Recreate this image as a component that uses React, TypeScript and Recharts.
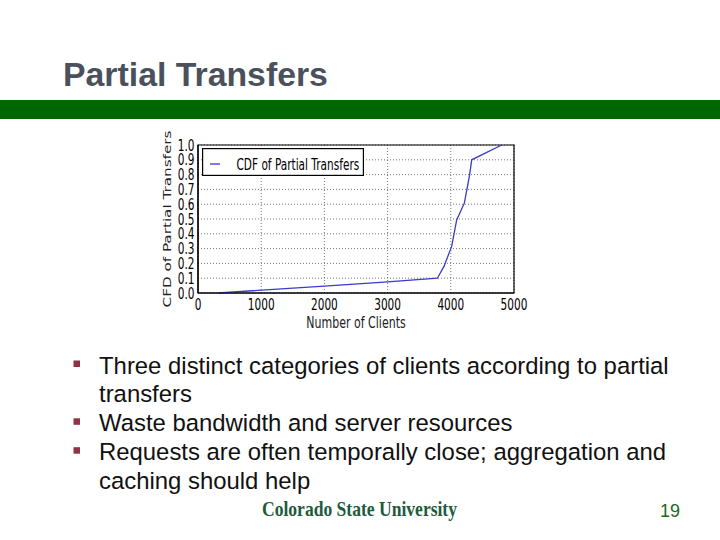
import React from 'react';
import {
  LineChart,
  Line,
  XAxis,
  YAxis,
  CartesianGrid,
  Legend,
  ReferenceArea,
  Label,
} from 'recharts';

// ---- data ----
const clients = [320, 2000, 3000, 3787, 3892, 4014, 4093, 4214, 4293, 4331, 4805];
const cdfValues = [0.0, 0.047, 0.075, 0.1, 0.18, 0.315, 0.494, 0.607, 0.787, 0.9, 1.0];
const xTicks = [0, 1000, 2000, 3000, 4000, 5000];
const yTicks = [0, 0.1, 0.2, 0.3, 0.4, 0.5, 0.6, 0.7, 0.8, 0.9, 1.0];
const seriesName = 'CDF of Partial Transfers';
const xLabel = 'Number of Clients';
const yLabel = 'CFD of Partial Transfers';

const titleText = 'Partial Transfers';
const bulletLines = [
  { bullet: true, text: 'Three distinct categories of clients according to partial' },
  { bullet: false, text: 'transfers' },
  { bullet: true, text: 'Waste bandwidth and server resources' },
  { bullet: true, text: 'Requests are often temporally close; aggregation and' },
  { bullet: false, text: 'caching should help' },
];
const footerLogo = 'Colorado State University';
const pageNumber = '19';

const data = clients.map((x, i) => ({ x, y: cdfValues[i] }));

const MPL_FONT = 'DejaVu Sans, Verdana, sans-serif';
const LINE_COLOR = '#3b3bc4';
const SQ = 0.68;

const XTick = (p: any) => (
  <text
    transform={`translate(${p.x},${p.y + 16.7}) scale(${SQ},1)`}
    textAnchor="middle"
    fontSize={15.5}
    fontFamily={MPL_FONT}
    fill="#000"
  >
    {p.payload.value}
  </text>
);

const YTick = (p: any) => (
  <text
    transform={`translate(${p.x - 3.5},${p.y + 5.6}) scale(${SQ},1)`}
    textAnchor="end"
    fontSize={15.5}
    fontFamily={MPL_FONT}
    fill="#000"
  >
    {Number(p.payload.value).toFixed(1)}
  </text>
);

const XLabelContent = (p: any) => {
  const vb = p.viewBox || { x: 43, y: 168, width: 316 };
  return (
    <text
      transform={`translate(${vb.x + vb.width / 2},${vb.y + 35}) scale(0.71,1)`}
      textAnchor="middle"
      fontSize={15.5}
      fontFamily={MPL_FONT}
      fill="#222"
    >
      {xLabel}
    </text>
  );
};

const YLabelContent = (p: any) => {
  const vb = p.viewBox || { x: 0, y: 20, width: 43, height: 148 };
  return (
    <text
      transform={`translate(${vb.x + 16},${vb.y + vb.height / 2}) rotate(-90) scale(1,0.72)`}
      textAnchor="middle"
      fontSize={15.2}
      fontFamily={MPL_FONT}
      fill="#222"
    >
      {yLabel}
    </text>
  );
};

const LegendContent = () => (
  <svg width={162} height={28} style={{ display: 'block' }}>
    <rect x={0.6} y={0.6} width={160.8} height={26.8} fill="#fff" stroke="#000" strokeWidth={1.2} />
    <line x1={8} x2={18} y1={16} y2={16} stroke={LINE_COLOR} strokeWidth={1.3} />
    <text
      transform={`translate(34.5,22) scale(${SQ},1)`}
      fontSize={15.5}
      fontFamily={MPL_FONT}
      fill="#000"
    >
      {seriesName}
    </text>
  </svg>
);

export default function App() {
  const baseline0 = 373.5;
  const lineStep = 28.9;
  return (
    <div
      style={{
        position: 'fixed',
        left: 0,
        top: 0,
        width: 720,
        height: 540,
        background: '#fff',
        overflow: 'hidden',
      }}
    >
      <svg width={720} height={540} style={{ position: 'absolute', left: 0, top: 0 }}>
        <text
          x={63}
          y={86}
          fontSize={33.8}
          fontWeight="bold"
          fontFamily="Liberation Sans, Arial, sans-serif"
          fill="#4a515c"
        >
          {titleText}
        </text>
        <rect x={0} y={100} width={720} height={19} fill="#006600" />
        {bulletLines.map((l, i) => {
          const by = baseline0 + i * lineStep;
          return (
            <g key={i}>
              {l.bullet && <rect x={73.5} y={by - 13} width={6.5} height={6.5} fill="#8f3344" />}
              <text
                x={99}
                y={by}
                fontSize={23.9}
                fontFamily="Liberation Sans, Arial, sans-serif"
                fill="#111"
              >
                {l.text}
              </text>
            </g>
          );
        })}
        <text
          x={262}
          y={516}
          fontSize={21}
          fontWeight="bold"
          fontFamily="Liberation Serif, Times New Roman, serif"
          fill="#1d5b3c"
          textLength={195}
          lengthAdjust="spacingAndGlyphs"
        >
          {footerLogo}
        </text>
        <text
          x={660}
          y={517}
          fontSize={18}
          fontFamily="Liberation Sans, Arial, sans-serif"
          fill="#1a6a1a"
        >
          {pageNumber}
        </text>
      </svg>

      <div style={{ position: 'absolute', left: 155, top: 125 }}>
        <LineChart
          width={380}
          height={210}
          data={data}
          margin={{ top: 20, right: 21, bottom: 0, left: 0 }}
        >
          <CartesianGrid stroke="#555" strokeDasharray="1 2" strokeWidth={0.8} />
          <XAxis
            type="number"
            dataKey="x"
            domain={[0, 5000]}
            ticks={xTicks}
            interval={0}
            height={42}
            tickSize={0}
            tickMargin={0}
            tickLine={false}
            axisLine={{ stroke: '#000', strokeWidth: 1.2 }}
            tick={XTick}
          >
            <Label content={XLabelContent} />
          </XAxis>
          <YAxis
            type="number"
            domain={[0, 1]}
            ticks={yTicks}
            interval={0}
            width={43}
            tickSize={0}
            tickMargin={0}
            tickLine={false}
            axisLine={{ stroke: '#000', strokeWidth: 1.2 }}
            tick={YTick}
          >
            <Label content={YLabelContent} />
          </YAxis>
          <Line
            type="linear"
            dataKey="y"
            name={seriesName}
            stroke={LINE_COLOR}
            strokeWidth={1.3}
            dot={false}
            activeDot={false}
            isAnimationActive={false}
          />
          <ReferenceArea
            x1={0}
            x2={5000}
            y1={0}
            y2={1}
            fill="none"
            stroke="#000"
            strokeWidth={1.2}
            ifOverflow="visible"
          />
          <Legend
            layout="vertical"
            align="center"
            verticalAlign="middle"
            wrapperStyle={{ left: 46.5, top: 23, width: 162, height: 28 }}
            content={LegendContent}
          />
        </LineChart>
      </div>
    </div>
  );
}
